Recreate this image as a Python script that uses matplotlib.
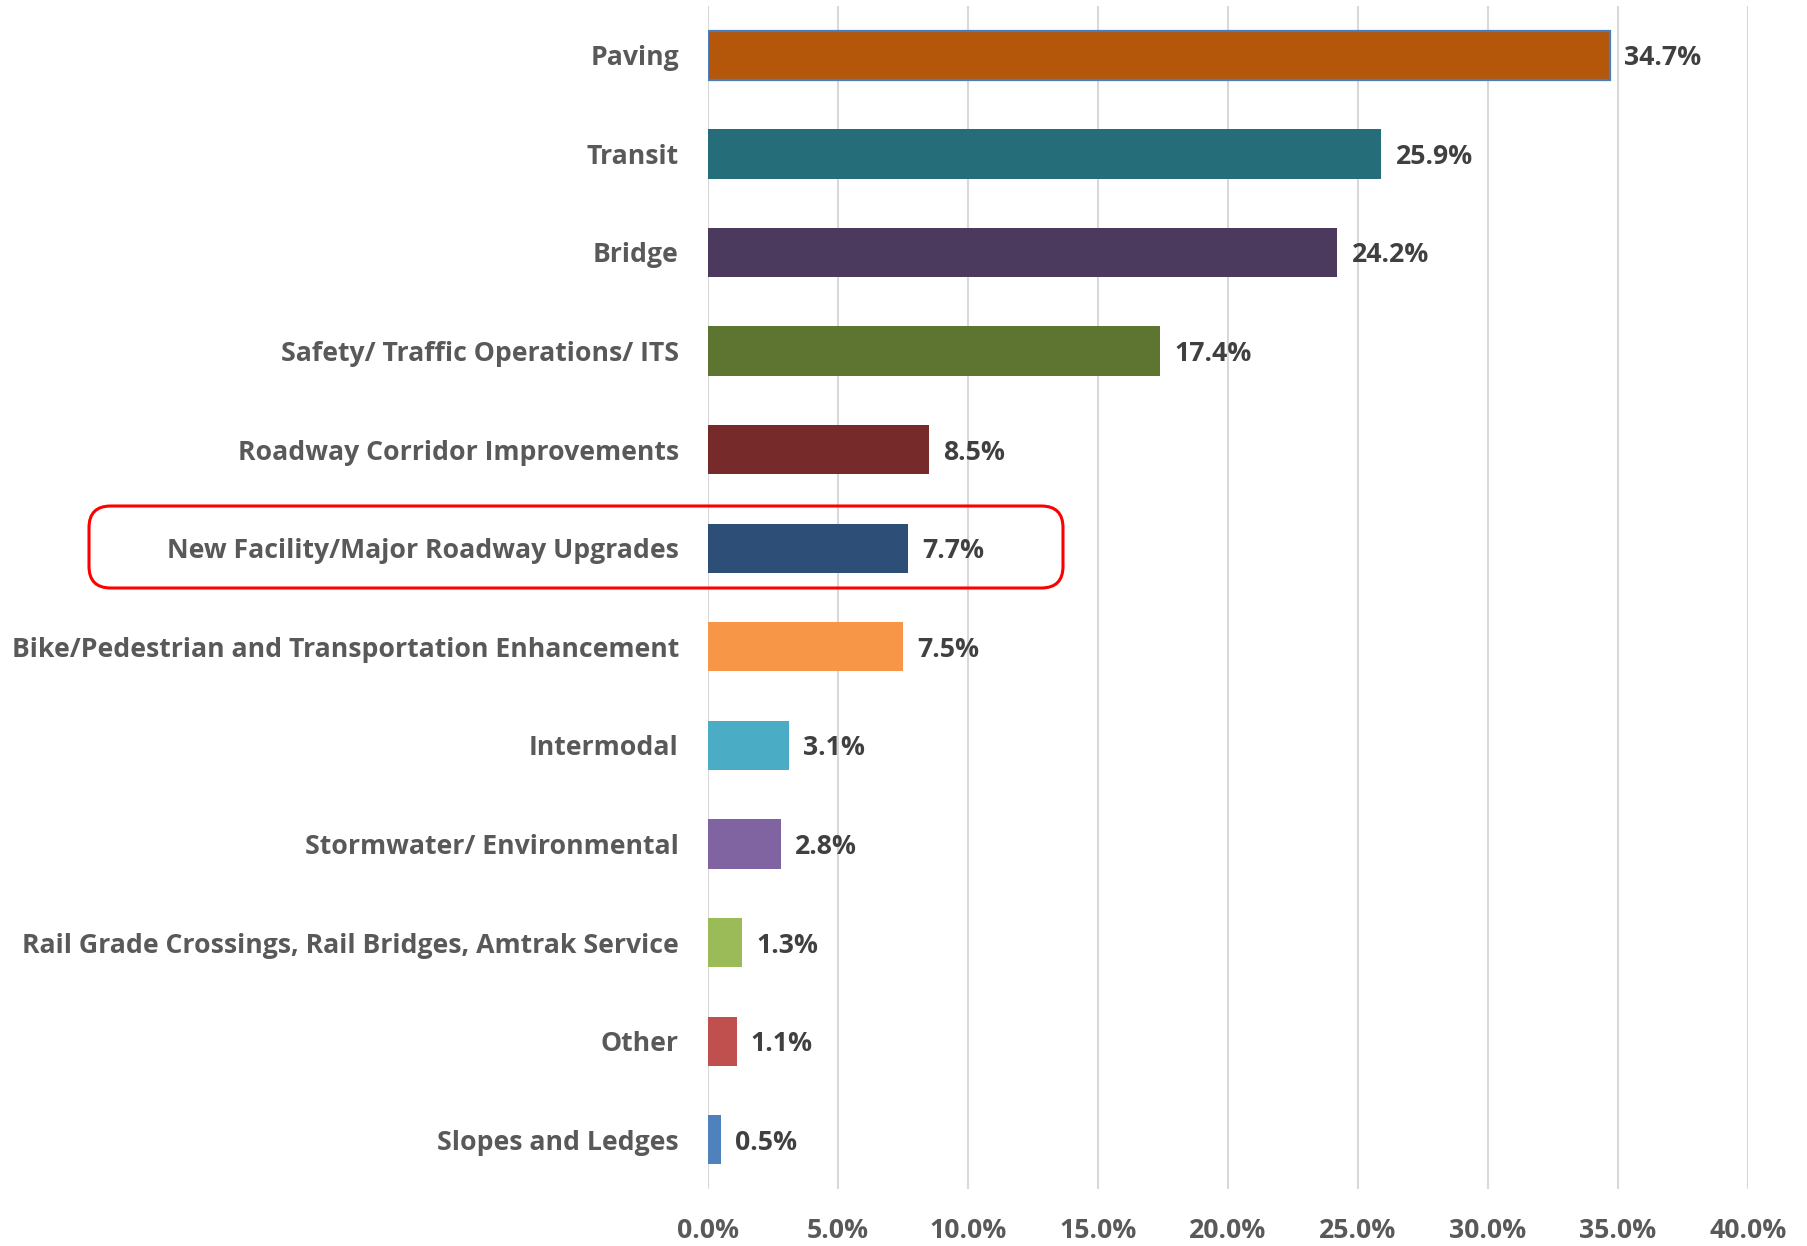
import matplotlib
matplotlib.use("Agg")
import matplotlib.pyplot as plt
from matplotlib.patches import FancyBboxPatch
from matplotlib.ticker import FuncFormatter, MultipleLocator

categories = [
    "Paving",
    "Transit",
    "Bridge",
    "Safety/ Traffic Operations/ ITS",
    "Roadway Corridor Improvements",
    "New Facility/Major Roadway Upgrades",
    "Bike/Pedestrian and Transportation Enhancement",
    "Intermodal",
    "Stormwater/ Environmental",
    "Rail Grade Crossings, Rail Bridges, Amtrak Service",
    "Other",
    "Slopes and Ledges",
]
values = [34.7, 25.9, 24.2, 17.4, 8.5, 7.7, 7.5, 3.1, 2.8, 1.3, 1.1, 0.5]
colors = ["#B5570A", "#266D7A", "#4B3A5E", "#5E7531", "#772A2A", "#2D4E77",
          "#F79646", "#4BACC6", "#8064A2", "#9BBB59", "#C0504D", "#4F81BD"]

plt.rcParams['font.family'] = ['Open Sans', 'DejaVu Sans']
FS = 19.2

fig = plt.figure(figsize=(18.08, 12.46), dpi=100)
ax = fig.add_axes([0.3916, 0.0457, 0.5752, 0.9495])

y = list(range(len(categories)))
bars = ax.barh(y, values, height=0.5, color=colors, zorder=3)
bars[0].set_edgecolor("#4A7EBB")
bars[0].set_linewidth(1.6)

for yi, v in zip(y, values):
    ax.text(v + 0.55, yi, f"{v:.1f}%", va="center_baseline", ha="left", fontsize=FS,
            fontweight="bold", color="#404040")

ax.set_xlim(0, 40)
ax.set_ylim(len(categories) - 0.5, -0.5)
ax.set_yticks(y)
ax.set_yticklabels(categories, fontsize=FS, fontweight="bold", color="#595959")
ax.xaxis.set_major_locator(MultipleLocator(5))
ax.xaxis.set_major_formatter(FuncFormatter(lambda v, p: f"{v:.1f}%"))
for lab in ax.get_xticklabels():
    lab.set_fontsize(FS)
    lab.set_fontweight("bold")
    lab.set_color("#595959")
ax.tick_params(axis="both", length=0)
ax.tick_params(axis="y", pad=21)
ax.tick_params(axis="x", pad=21)
ax.grid(axis="x", color="#D9D9D9", linewidth=1.5, zorder=0)
for s in ax.spines.values():
    s.set_visible(False)

# red rounded highlight box
x0, x1 = 89 / 1808, 1063 / 1808
y0, y1 = 1 - 588 / 1246, 1 - 506 / 1246
box = FancyBboxPatch((x0, y0), x1 - x0, y1 - y0,
                     boxstyle="round,pad=0,rounding_size=0.012",
                     transform=fig.transFigure, fill=False,
                     edgecolor="#FF0000", linewidth=2.2, zorder=10,
                     mutation_aspect=1808 / 1246)
fig.patches.append(box)

fig.savefig("out.png", dpi=100)
